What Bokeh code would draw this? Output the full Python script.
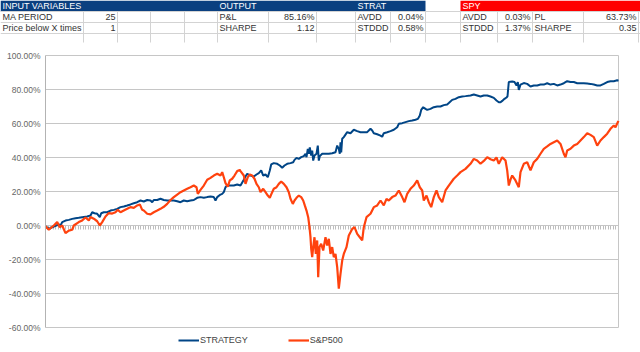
from bokeh.plotting import figure
from bokeh.models import (Range1d, FixedTicker, PrintfTickFormatter, Legend, LegendItem,
                          LinearAxis)
from bokeh.embed import file_html
from bokeh.resources import INLINE
from bokeh.core.properties import value

FONT = "Liberation Sans"

# ---------------- table data ----------------
header_labels = ["INPUT VARIABLES", "OUTPUT", "STRAT", "SPY"]
input_names = ["MA PERIOD", "Price below X times"]
input_values = ["25", "1"]
output_names = ["P&L", "SHARPE"]
output_values = ["85.16%", "1.12"]
strat_names = ["AVDD", "STDDD"]
strat_values = ["0.04%", "0.58%"]
spy_names = ["AVDD", "STDDD"]
spy_values = ["0.03%", "1.37%"]
spy2_names = ["PL", "SHARPE"]
spy2_values = ["63.73%", "0.35"]

# ---------------- series data (week index, cumulative %) ----------------
strategy_week = [0, 3.3, 8.3, 13.3, 15, 16.7, 20, 23.3, 26.7, 30, 33.3, 36.7, 41.7, 45, 46.7, 49, 51.7, 54.3, 55.7,
                 58.3, 61.7, 65, 68.3, 71.7, 75, 78.3, 81.7, 85, 88.3, 91.7, 95, 98.3, 101.7, 105, 106.7, 108.3,
                 111.7, 115, 118.3, 121.7, 125, 128.3, 131.7, 135, 138.3, 141.7, 145, 148.3, 151.7, 155, 158.3,
                 161.7, 165, 168.3, 170, 171.7, 175, 176.7, 178.3, 180, 181.7, 185, 188.3, 191.7, 195, 198.3, 200,
                 201.7, 205, 208.3, 211, 213.3, 215.7, 217.7, 220, 222.3, 224.3, 225.7, 228.3, 231.7, 234.3, 236.7,
                 239, 241.7, 245, 247.7, 249, 251, 253.3, 255.7, 258.3, 260, 261, 262.3, 263.3, 264.3, 265.7, 266.7,
                 267.7, 269, 271, 272.3, 273.3, 274.3, 276.7, 280, 283.3, 286.7, 290, 291.7, 293.3, 294.3, 295,
                 295.7, 296.7, 298.3, 301.7, 305, 308.3, 311.7, 315, 318.3, 321.7, 325, 326.7, 328.3, 331.7, 335,
                 336.7, 338.3, 341.7, 345, 348.3, 351.7, 353.3, 356.7, 360, 363.3, 366.7, 370, 372.3, 374.3, 375.7,
                 377.7, 380, 381.7, 385, 388.3, 391.7, 395, 398.3, 401.7, 403.3, 406.7, 410, 413.3, 416.7, 420, 425,
                 428.3, 431.7, 435, 438.3, 441.7, 445, 448.3, 451, 453.3, 455, 456.7, 459, 461, 462, 463.3, 466.7,
                 469, 471, 472.3, 473.3, 475, 478.3, 481.7, 485, 488.3, 491.7, 495, 498.3, 501.7, 505, 508.3, 511.7,
                 515, 518.3, 521.7, 525, 528.3, 531.7, 535, 538.3, 541.7, 545, 548.3, 551.7, 555, 558.3, 561.7, 565,
                 568.3, 571.7, 573]
strategy_pct = [-0.5, -2, -0.6, 0.6, 0, 2, 2.9, 3.3, 3.9, 4.3, 4.5, 4.9, 5.3, 5.9, 7.8, 7.2, 6.9, 4.9, 7.2,
                7.8, 7.8, 8.8, 9.2, 9.8, 10.8, 11.2, 11.8, 12.4, 13.1, 13.7, 14.7, 14.1, 15, 14.7, 13.7, 15,
                15, 15.7, 15, 14.7, 14.7, 14.7, 14.3, 13.7, 14.7, 14.3, 14.7, 15, 16.3, 16.7, 16.3,
                16.7, 17, 16.7, 14.7, 16.7, 18.2, 18.6, 19.6, 22.5, 23.5, 23.5, 23.5, 24.1, 23.5, 26.9, 28.8,
                30.4, 29.4, 28.8, 30, 30.8, 32.4, 29.4, 30, 28.4, 32.4, 35.9, 36.7, 36.3, 35.3, 34,
                35.3, 36.3, 36.7, 37.2, 38.6, 39.8, 39.2, 40.2, 40.8, 42.2, 40.2, 45.1, 42.2, 46, 41.2, 44.1,
                38.2, 41.2, 42.2, 47, 38.2, 40.8, 42.2, 42.2, 42.2, 42.5, 43.1, 47, 45.1, 42.2, 49,
                43, 51, 52, 54.9, 54.3, 56.3, 55.5, 54.9, 54.9, 54.9, 56.9, 55.9, 54.3, 53.7, 52.9,
                52.2, 54.3, 54.9, 55.5, 56.3, 57.8, 59.8, 60.2, 60.8, 61.4, 61.8, 62.2, 62.7, 64.7, 68,
                69.6, 68.6, 68, 68.6, 69.6, 70, 70, 70.8, 71.2, 72, 73.9, 74.5, 75.5, 75.9, 76.1, 76.5,
                77.1, 76.5, 75.9, 76.5, 76.5, 75.9, 75.1, 73.5, 72.5, 72.5, 73.3, 74.5, 75.3, 76, 84.4, 84.7,
                84.4, 82.4, 84.4, 79.8, 82.9, 83.8, 83.3, 81.8, 82.4, 82.4, 82.9, 82.9, 83.7, 82.9, 83.3, 82.4,
                82.9, 83.7, 84.9, 84.4, 84.4, 83.7, 83.7, 83.7, 83.5, 83.3, 82.9, 82.4, 82.4, 83.3, 84.4, 84.9,
                84.9, 85.4, 85.16]

spx_week = [0, 3.3, 8.3, 11.7, 14.3, 16.7, 20, 23.3, 26.7, 28.3, 33.3, 36.7, 40, 43.3, 45, 48.3, 51.7, 54.3,
            56.7, 60, 63.3, 66.7, 70, 72.3, 75, 78.3, 81.7, 85, 88.3, 91.7, 94.3, 96.7, 98.3, 101.7, 105, 108.3,
            111.7, 115, 118.3, 121.7, 125, 128.3, 131.7, 135, 138.3, 141.7, 145, 148.3, 151, 152.3, 155, 158.3,
            161.7, 165, 168.3, 171.7, 175, 176.7, 178.3, 180, 182.3, 184.3, 186.7, 189, 191.7, 194.3, 195, 198.3,
            200, 202.3, 204.3, 206.7, 209, 211, 213.3, 215, 217.7, 220, 222.3, 224.3, 226.7, 228.3, 231, 233.3,
            235.7, 238.3, 241, 243.3, 245, 247.3, 249, 251, 253.3, 255.7, 257.7, 259.3, 261, 262.7, 264, 265,
            265.7, 266.7, 267.7, 269, 270.3, 271.7, 272.7, 274, 275.7, 277.7, 280, 281.7, 283.3, 285, 286.7,
            288.3, 290, 291.7, 293.3, 295, 296.7, 298.3, 301, 303.3, 305, 306.7, 309, 311.7, 314.3, 316.7,
            318.3, 321, 325, 328.3, 331.7, 335, 338.3, 341, 343.3, 346.7, 350, 353.3, 356.7, 359, 361.7, 365,
            368.3, 371.7, 374.3, 376.7, 378.3, 381, 383.3, 385.7, 388.3, 391, 393.3, 396.7, 400, 403.3, 408.3,
            411.7, 415, 420, 425, 428.3, 431.7, 435, 438.3, 441.7, 445, 448.3, 451, 453.3, 456.7, 460, 461.7,
            463.3, 465, 466.7, 470, 473.3, 475, 478.3, 481.7, 485, 488.3, 491.7, 495, 498.3, 501.7, 505, 508.3,
            511.7, 515, 518.3, 520, 521.7, 525, 528.3, 531.7, 535, 538.3, 541.7, 545, 548.3, 551.7, 555, 558.3,
            561.7, 565, 568.3, 570, 572.3, 573]
spx_pct = [-0.5, -2.5, 0, 2, -1, 0, -4.5, -3, -2.5, 0, 2, 3, 4.7, 3, 5, 4, 2.5, 0,
           2, 5.3, 7.3, 7, 7.8, 9.2, 7.8, 8.8, 9.8, 10.8, 10.4, 11.8, 12.4, 9.2, 8.8, 6.9, 6.5, 7.8,
           8.8, 9.8, 11, 12.7, 15, 16.7, 18.2, 19.6, 20.6, 21.6, 22.5, 23.5, 22.5, 18.6, 21, 23.5,
           26.9, 28, 29.4, 30.4, 29.4, 31.4, 28.4, 24.9, 22.9, 26.5, 27.5, 29.4, 32, 32.7, 32, 29.4,
           24.5, 28.4, 30, 29.4, 27.5, 24.5, 22.5, 19.6, 21.6, 19.6, 17.6, 16.3, 19.6, 21.6, 22.5, 24.5,
           25.9, 24.5, 22.5, 19.6, 15.7, 12.7, 14.7, 16.3, 17.6, 16.7, 14.7, 11.8, 8.8, 4.9, -1, -6.9,
           -13.7, -18.6, -12.7, -6.9, -16.7, -8.8, -30.4, -12.7, -10.8, -14.7, -6.9, -11.8, -7.8, -16.7, -12.7,
           -18.6, -16.7, -24.5, -37.2, -28.4, -20.6, -16.7, -12.7, -5.9, -4, -2, -1, -4.9, -6.9, -8.8,
           -1, 4.9, 6.9, 10.8, 11.8, 14.7, 11.8, 15.7, 14.7, 16.7, 17.6, 20.6, 16.7, 13.7, 18.6, 21.6,
           23.5, 26.5, 22.5, 20.6, 14.7, 17.6, 13.7, 10.8, 16.7, 20.6, 16.7, 13.7, 20.6, 23.5, 27.5,
           29.4, 31.4, 33.3, 36.3, 39.2, 38.2, 36.3, 38, 40.2, 39, 38.2, 40, 36.3, 40.2, 38.2, 32.4,
           23.5, 27, 29.4, 26.5, 22.5, 31.4, 36.3, 37.2, 32.4, 37.2, 39.2, 42.2, 45.1, 46.5, 48, 49,
           50, 48, 42.2, 40.2, 44.1, 45.1, 47, 48, 50, 52, 54.3, 53.3, 52, 47, 50, 52,
           54, 56.9, 58.8, 57.8, 60.8, 61.5]

y_ticks = [-60, -40, -20, 0, 20, 40, 60, 80, 100]
N_WEEKS = 573

# ---------------- page geometry (pixels) ----------------
W, H = 640, 352
PLOT_L, PLOT_R, PLOT_T, PLOT_B = 45, 618, 55, 327
PX_PER_PCT = (PLOT_B - PLOT_T) / (y_ticks[-1] - y_ticks[0])
y_lo = y_ticks[0] - (H - PLOT_B) / PX_PER_PCT
y_hi = y_ticks[-1] + PLOT_T / PX_PER_PCT
x_per_px = N_WEEKS / (PLOT_R - PLOT_L)
x_lo = -PLOT_L * x_per_px
x_hi = N_WEEKS + (W - PLOT_R) * x_per_px

p = figure(width=W, height=H, x_range=Range1d(x_lo, x_hi), y_range=Range1d(y_lo, y_hi),
           output_backend="svg", toolbar_location=None, min_border=0,
           min_border_left=0, min_border_right=0, min_border_top=0, min_border_bottom=0,
           x_axis_location=None, y_axis_location=None)
p.outline_line_color = None
p.grid.visible = False
p.extra_x_ranges = {"px": Range1d(0, W)}
p.extra_y_ranges = {"px": Range1d(H, 0)}

GRID_C = "#c6c6c6"
# horizontal gridlines across the plot area and the right edge of the plot area
n_t = len(y_ticks)
p.segment(x0=[0] * n_t, x1=[N_WEEKS] * n_t, y0=y_ticks, y1=y_ticks,
          line_color=GRID_C, line_width=1)
p.segment(x0=[N_WEEKS], x1=[N_WEEKS], y0=[y_ticks[0]], y1=[y_ticks[-1]],
          line_color=GRID_C, line_width=1)

# y axis (at left edge of series)
yax = LinearAxis(fixed_location=0, bounds=(y_ticks[0], y_ticks[-1]),
                 ticker=FixedTicker(ticks=y_ticks),
                 formatter=PrintfTickFormatter(format="%.2f%%"))
yax.major_tick_out = 0
yax.major_tick_in = 0
yax.minor_tick_out = 0
yax.minor_tick_in = 0
yax.axis_line_color = "#b3b3b3"
yax.major_label_text_font = FONT
yax.major_label_text_font_size = "8.5px"
yax.major_label_text_color = "#666666"
yax.major_label_standoff = 5
p.add_layout(yax, "left")

# category axis along 0 with dense ticks
xax = LinearAxis(fixed_location=0, bounds=(0, N_WEEKS),
                 ticker=FixedTicker(ticks=[], minor_ticks=[i * 2.5 for i in range(230)]))
xax.level = "underlay"
xax.major_tick_out = 0
xax.major_tick_in = 0
xax.minor_tick_in = 0
xax.minor_tick_out = 4
xax.minor_tick_line_color = "#bdbdbd"
xax.axis_line_color = "#b3b3b3"
p.add_layout(xax, "below")

r1 = p.line(strategy_week, strategy_pct, line_color="#004586", line_width=2)
r2 = p.line(spx_week, spx_pct, line_color="#ff420e", line_width=2.2)

legend = Legend(items=[LegendItem(label="STRATEGY", renderers=[r1]),
                       LegendItem(label="S&P500", renderers=[r2])],
                orientation="horizontal", location=(178, 6), margin=0, padding=0,
                spacing=40, glyph_width=21, glyph_height=12, label_height=12,
                label_standoff=1, label_text_font=FONT, label_text_font_size="9px",
                label_text_color="#444444", border_line_color=None, background_fill_alpha=0)
p.add_layout(legend, "center")

# ---------------- table (pixel coordinates) ----------------
HEADER_BLUE = "#0b4080"
HEADER_RED = "#ff0000"
GRID = "#d3d3d3"
TXT = "#333333"
col_edges = [0, 83, 117, 150, 184, 217, 268, 316, 355, 390, 425, 460, 497, 532, 583, 638]
px = dict(x_range_name="px", y_range_name="px")

p.quad(left=[0, 460], right=[425, 640], top=[0, 0], bottom=[11, 11],
       fill_color=[HEADER_BLUE, HEADER_RED], line_color=None, **px)
p.segment(x0=[0, 0, 0], y0=[11, 22, 33], x1=[640, 640, 640], y1=[11, 22, 33],
          line_color=GRID, line_width=1, **px)
p.segment(x0=col_edges[1:], y0=[11] * (len(col_edges) - 1), x1=col_edges[1:],
          y1=[42] * (len(col_edges) - 1), line_color=GRID, line_width=1, **px)

p.text(x=[2, 219, 357, 462], y=[5.8] * 4, text=header_labels, text_font=value(FONT),
       text_font_size="9px", text_baseline="middle", text_align="left", text_color="white", **px)

ry = [16.8, 27.8]
left_names = input_names + output_names + strat_names + spy_names + spy2_names
left_x = [2, 2, 219, 219, 357, 357, 462, 462, 534, 534]
p.text(x=left_x, y=ry * 5, text=left_names, text_font=value(FONT), text_font_size="9px",
       text_baseline="middle", text_align="left", text_color=TXT, **px)
right_vals = input_values + output_values + strat_values + spy_values + spy2_values
right_x = [115, 115, 314, 314, 423, 423, 530, 530, 636, 636]
p.text(x=right_x, y=ry * 5, text=right_vals, text_font=value(FONT), text_font_size="9px",
       text_baseline="middle", text_align="right", text_color=TXT, **px)

open("out.html", "w").write(file_html(p, INLINE))
